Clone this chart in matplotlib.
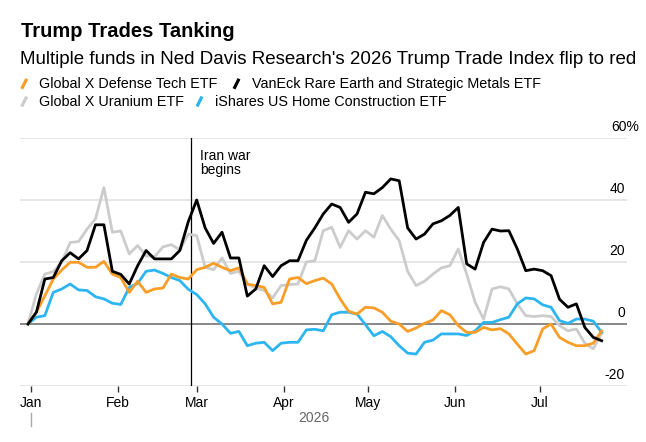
import pandas as pd
import matplotlib
matplotlib.use("Agg")
import matplotlib.pyplot as plt
import matplotlib.transforms as mtransforms
from matplotlib.lines import Line2D

plt.rcParams['font.family'] = ['Liberation Sans', 'DejaVu Sans']

# ===============================
# Data (cumulative % change, every 3 days)
# ===============================
START = "2025-12-31"
N_POINTS = 69

defense = [0, 3.8, 9.1, 14.5, 17.4, 19.9, 19.9, 18.3, 18.3, 20.2, 16.1, 15,
           10.2, 13.8, 10.2, 11.3, 11.6, 16.1, 15, 14.5, 17.5, 18.3, 19.6,
           18.3, 17.2, 18.1, 12.9, 12.4, 11.8, 6.5, 7, 14.5, 15, 13,
           14, 14.8, 12.9, 8.1, 4.1, 3.2, 5.4, 5.2, 3.8, 0.9, 0, -2.4,
           -1.3, 0.2, 1.3, 4.3, 3, -0.5, -2.7, -2.7, -1.1, -1.9, -1.5,
           -3.2, -6.5, -9.7, -8.6, -1.6, 0, -4.3, -5.9, -7, -7, -6.2, -2.2]

rare_earth = [0, 3.8, 14.5, 15, 20.4, 23, 21, 23.7, 32, 32, 17, 16,
              12.9, 18.8, 23.7, 21, 21, 21, 23.7, 33, 40, 31, 26,
              29.6, 21.3, 21.3, 9, 11.3, 18.8, 15.3, 18.8, 20.4, 20.4, 27,
              31, 35.5, 38.7, 37.6, 32.8, 35.5, 42.5, 42, 44, 46.8, 46.2, 31,
              27.4, 29, 32.3, 33.3, 35, 37.6, 19.4, 17.7, 26.3, 30.6, 30,
              30.1, 24.2, 17.2, 17.7, 17.2, 15.6, 8, 5.4, 6.5, -1.1, -4.3, -5.4]

uranium = [0, 9.7, 16.1, 16.9, 19.9, 26.3, 26.6, 30.6, 33.9, 44, 29.6, 30,
           22.6, 25.3, 22, 21.7, 24.9, 25.6, 23.9, 29, 28.5, 18.3, 17.5,
           21.3, 16.3, 17, 12.9, 11.6, 10.8, 8.4, 12.4, 12.7, 12.9, 20,
           20.4, 30.1, 31.2, 24.7, 30.1, 27.4, 30.1, 28, 35, 30.6, 26.9, 17,
           12.4, 13.8, 16.1, 18.1, 18.8, 24.2, 16.1, 7, 1.6, 11.3, 12,
           11.3, 6.5, 2.7, 2.4, 2.7, 2.4, -0.5, -2.2, -1.6, -6.2, -8, -3]

home = [0, 2.2, 2.7, 10.2, 11.3, 12.9, 11, 10.8, 8.8, 8.1, 6.7, 6.3,
        11.8, 13.1, 17, 17.4, 16.3, 15, 14, 11.2, 9.5, 6.5, 2.2,
        0, -3, -2.4, -7, -6.2, -5.9, -8.6, -6.2, -5.9, -5.9, -1.9,
        -1.7, -2.2, 3, 3.8, 3.8, 3.2, -0.2, -3.8, -2.4, -4.1, -7, -9.4,
        -9.7, -5.9, -5.2, -3.2, -3.2, -3.2, -3.7, -2.2, 0.5, 0.5, 1.4,
        2.2, 6.5, 8.4, 8.1, 6.2, 5.4, 1.1, 0.2, 1.6, 1.6, 0.9, -2.7]

series_names = ["Global X Defense Tech ETF", "VanEck Rare Earth and Strategic Metals ETF",
                "Global X Uranium ETF", "iShares US Home Construction ETF"]
series_colors = ["#f89e28", "#000000", "#cccccc", "#2cb5f0"]

y_ticks = [-20, 0, 20, 40, 60]
y_labels = ["-20", "0", "20", "40", "60%"]
month_ticks = ["2026-01-01", "2026-02-01", "2026-03-01", "2026-04-01",
               "2026-05-01", "2026-06-01", "2026-07-01"]
month_labels = ["Jan", "Feb", "Mar", "Apr", "May", "Jun", "Jul"]
event_date = "2026-02-27"

W, H = 646, 442


def fx(px):
    return px / W


def fy(py):
    return 1 - py / H


# ===============================
# Figure
# ===============================
fig = plt.figure(figsize=(W / 100, H / 100), dpi=100)
ax = fig.add_axes([fx(20), fy(386), fx(627) - fx(20), fy(138) - fy(386)])

dates = pd.date_range(START, periods=N_POINTS, freq="3D")

# grid
for v in y_ticks:
    if v == 0:
        ax.axhline(v, color="#7f7f7f", lw=1.3, zorder=2)
    else:
        ax.axhline(v, color="#e2e2e2", lw=1.2, zorder=1)

# event line
ax.axvline(pd.Timestamp(event_date), color="#000000", lw=0.9, zorder=2)
ax.annotate("Iran war", xy=(pd.Timestamp(event_date), 52.9), xytext=(6.5, 0),
            textcoords="offset points", fontsize=10, va="baseline", ha="left")
ax.annotate("begins", xy=(pd.Timestamp(event_date), 48.4), xytext=(6.5, 0),
            textcoords="offset points", fontsize=10, va="baseline", ha="left")

# lines (gray under the rest)
order = [2, 3, 0, 1]
data = [defense, rare_earth, uranium, home]
for z, i in enumerate(order):
    ax.plot(dates, data[i], color=series_colors[i], lw=2.0, zorder=3 + z)

ax.set_ylim(-20, 60)
ax.set_xlim(pd.Timestamp("2025-12-28 04:00"), pd.Timestamp("2026-08-01"))

for s in ax.spines.values():
    s.set_visible(False)
ax.set_yticks([])
ax.set_xticks([pd.Timestamp(d) for d in month_ticks])
ax.set_xticklabels(month_labels)
ax.tick_params(axis="x", length=4.5, width=1, color="#333333", pad=2.5, labelsize=10)

# y labels sitting above the grid lines, right side
trans = mtransforms.blended_transform_factory(ax.transAxes, ax.transData)
xr = (625 - 20) / (627 - 20)
x60 = (639 - 20) / (627 - 20)
for v, lab in zip(y_ticks, y_labels):
    ax.text(x60 if lab.endswith("%") else xr, v + 2.25, lab, transform=trans,
            ha="right", va="baseline", fontsize=10, color="#000000")

# year label
fig.text(fx(314), fy(422), "2026", ha="center", va="baseline", fontsize=10, color="#666666")
fig.add_artist(Line2D([fx(30.7), fx(30.7)], [fy(413), fy(426)], color="#aaaaaa", lw=1))

# ===============================
# Title / subtitle / legend
# ===============================
fig.text(fx(21), fy(36.7), "Trump Trades Tanking", fontsize=14.5, fontweight="bold",
         ha="left", va="baseline")
fig.text(fx(20), fy(64), "Multiple funds in Ned Davis Research's 2026 Trump Trade Index flip to red",
         fontsize=13.5, ha="left", va="baseline")

legend_pos = [(21.7, 39, 88.3), (234, 252, 88.3), (21.7, 39, 106), (197, 215, 106)]
for (mx, tx, by), name, col in zip(legend_pos, series_names, series_colors):
    fig.add_artist(Line2D([fx(mx), fx(mx + 5)], [fy(by + 0.5), fy(by - 9.5)],
                          color=col, lw=2.3, solid_capstyle="butt"))
    fig.text(fx(tx), fy(by), name, fontsize=10.4, ha="left", va="baseline")

fig.savefig("out.png", dpi=100)
